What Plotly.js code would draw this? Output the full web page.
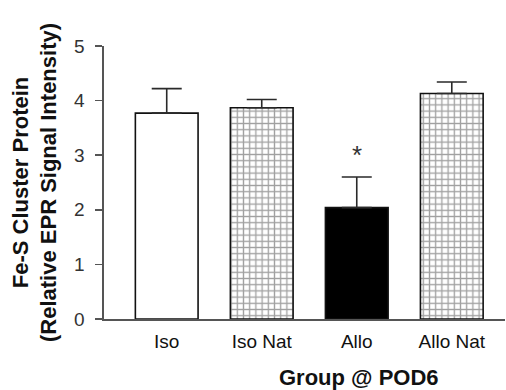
<!DOCTYPE html>
<html>
<head>
<meta charset="utf-8">
<script src="https://cdn.plot.ly/plotly-3.0.1.min.js"></script>
<style>html,body{margin:0;padding:0;background:#fff;}#chart{width:506px;height:390px;}</style>
</head>
<body>
<div id="chart"></div>
<script>
const categories = ['Iso', 'Iso Nat', 'Allo', 'Allo Nat'];
const means = [3.77, 3.87, 2.04, 4.13];
const errorsUp = [0.45, 0.15, 0.56, 0.21];
const errorsDown = [0, 0, 0, 0];
const barColors = ['#ffffff', '#ffffff', '#000000', '#ffffff'];
const barPatterns = ['', '+', '', '+'];
const yTicks = [0, 1, 2, 3, 4, 5];
const sigLabel = '*';
const sigCategory = 'Allo';
const sigValue = 3.0;

const FONT = 'Liberation Sans, Arial, sans-serif';

const trace = {
  type: 'bar',
  x: categories,
  y: means,
  width: 0.66,
  marker: {
    color: barColors,
    line: {color: '#111111', width: 1.6},
    pattern: {shape: barPatterns, size: 6.2, solidity: 0.38, fgcolor: '#111111', fillmode: 'overlay'}
  },
  error_y: {
    type: 'data', symmetric: false, array: errorsUp, arrayminus: errorsDown,
    color: '#2a2a2a', thickness: 1.6, width: 15
  },
  hoverinfo: 'skip'
};

const layout = {
  width: 506, height: 390,
  margin: {l: 104, r: 1, t: 46, b: 71},
  paper_bgcolor: '#ffffff', plot_bgcolor: '#ffffff',
  font: {family: FONT, color: '#111111', size: 18},
  showlegend: false,
  xaxis: {
    type: 'category',
    range: [-0.66, 3.56],
    showline: true, linecolor: '#555555', linewidth: 1.6,
    ticks: '', showgrid: false, zeroline: false,
    tickfont: {family: FONT, size: 19, color: '#111111'},
    ticklabelstandoff: 5,
    fixedrange: true
  },
  yaxis: {
    range: [0, 5],
    tickvals: yTicks,
    showline: true, linecolor: '#555555', linewidth: 1.6,
    ticks: 'outside', ticklen: 7, tickwidth: 1.6, tickcolor: '#555555',
    showgrid: false, zeroline: false,
    tickfont: {family: FONT, size: 19, color: '#333333'},
    ticklabelstandoff: 7,
    title: {
      text: '<b>Fe-S Cluster Protein<br>(Relative EPR Signal Intensity)</b>',
      font: {family: FONT, size: 22, color: '#111111'},
      standoff: 11
    },
    fixedrange: true
  },
  annotations: [
    {
      text: '<b>Group @ POD6</b>', xref: 'paper', yref: 'paper',
      x: 0.636, y: 0, xanchor: 'center', yanchor: 'top', yshift: -44,
      showarrow: false, font: {family: FONT, size: 22, color: '#111111'}
    },
    {
      text: sigLabel, xref: 'x', yref: 'y', x: sigCategory, y: sigValue,
      xanchor: 'center', yanchor: 'middle', showarrow: false,
      font: {family: FONT, size: 26, color: '#333333'}
    }
  ]
};

Plotly.newPlot('chart', [trace], layout, {displayModeBar: false, staticPlot: true});
</script>
</body>
</html>
